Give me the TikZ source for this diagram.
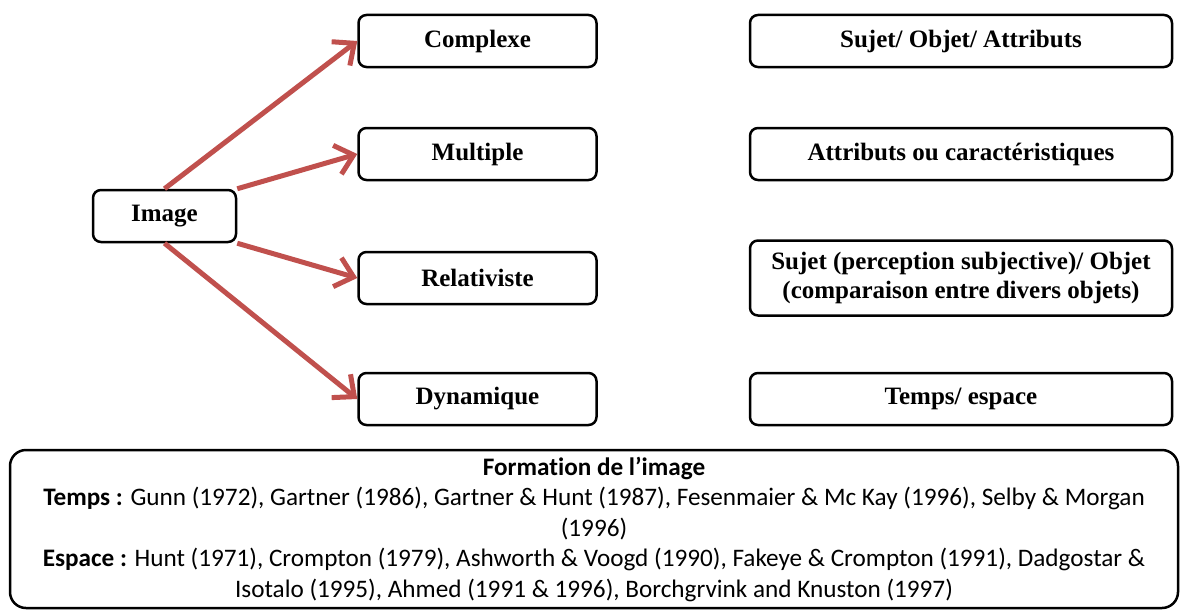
\documentclass[tikz,border=0pt]{standalone}
\usepackage{fontspec}
\setmainfont{Liberation Serif}
\newfontfamily\calibri[Ligatures=NoCommon]{Carlito}
\usetikzlibrary{arrows.meta,positioning}
\definecolor{arrowred}{RGB}{192,80,77}

\begin{document}
\begin{tikzpicture}[x=1pt, y=-1pt,
  box/.style={draw, line width=2.5pt, rounded corners=8pt, align=center,
    font=\fontsize{25}{29}\selectfont\bfseries, minimum height=52pt, inner sep=4pt},
  link/.style={arrowred, line width=5pt, -{Straight Barb[length=17pt,width=30pt]}}]
  \useasboundingbox (0,0) rectangle (1182,610);
  % left part
  \node (img) [box, minimum width=143pt] at (164.5,216) {Image};
  \node (complexe) [box, minimum width=238pt] at (477.5,41) {Complexe};
  \node (multiple) [box, minimum width=238pt] at (477.5,154) {Multiple};
  \node (relat) [box, minimum width=238pt] at (477.5,278) {Relativiste};
  \node (dyn) [box, minimum width=238pt] at (477.5,399) {Dynamique};
  % right part
  \node (sujet) [box, minimum width=422pt, right=151pt of complexe] {Sujet/ Objet/ Attributs};
  \node (attr) [box, minimum width=422pt, right=151pt of multiple] {Attributs ou caractéristiques};
  \node (percep) [box, minimum width=422pt, minimum height=75pt, right=151pt of relat]
    {Sujet (perception subjective)/ Objet\\(comparaison entre divers objets)};
  \node (temps) [box, minimum width=422pt, right=151pt of dyn] {Temps/ espace};
  \draw[link] (img.north) -- (complexe.west);
  \draw[link] (img.north east) -- (multiple.west);
  \draw[link] (img.south east) -- (relat.west);
  \draw[link] (img.south) -- (dyn.west);
  % formation
  \node (formation) [draw, line width=2.5pt, rounded corners=16pt, align=center,
    minimum width=1168pt, minimum height=158pt,
    font=\calibri\fontsize{25.2}{30.5}\selectfont] at (594,529)
    {\textbf{Formation de l’image}\\
     \textbf{Temps :} Gunn (1972), Gartner (1986), Gartner \& Hunt (1987), Fesenmaier \& Mc Kay (1996), Selby \& Morgan\\
     (1996)\\
     \textbf{Espace :} Hunt (1971), Crompton (1979), Ashworth \& Voogd (1990), Fakeye \& Crompton (1991), Dadgostar \&\\
     Isotalo (1995), Ahmed (1991 \& 1996), Borchgrvink and Knuston (1997)};
\end{tikzpicture}
\end{document}
